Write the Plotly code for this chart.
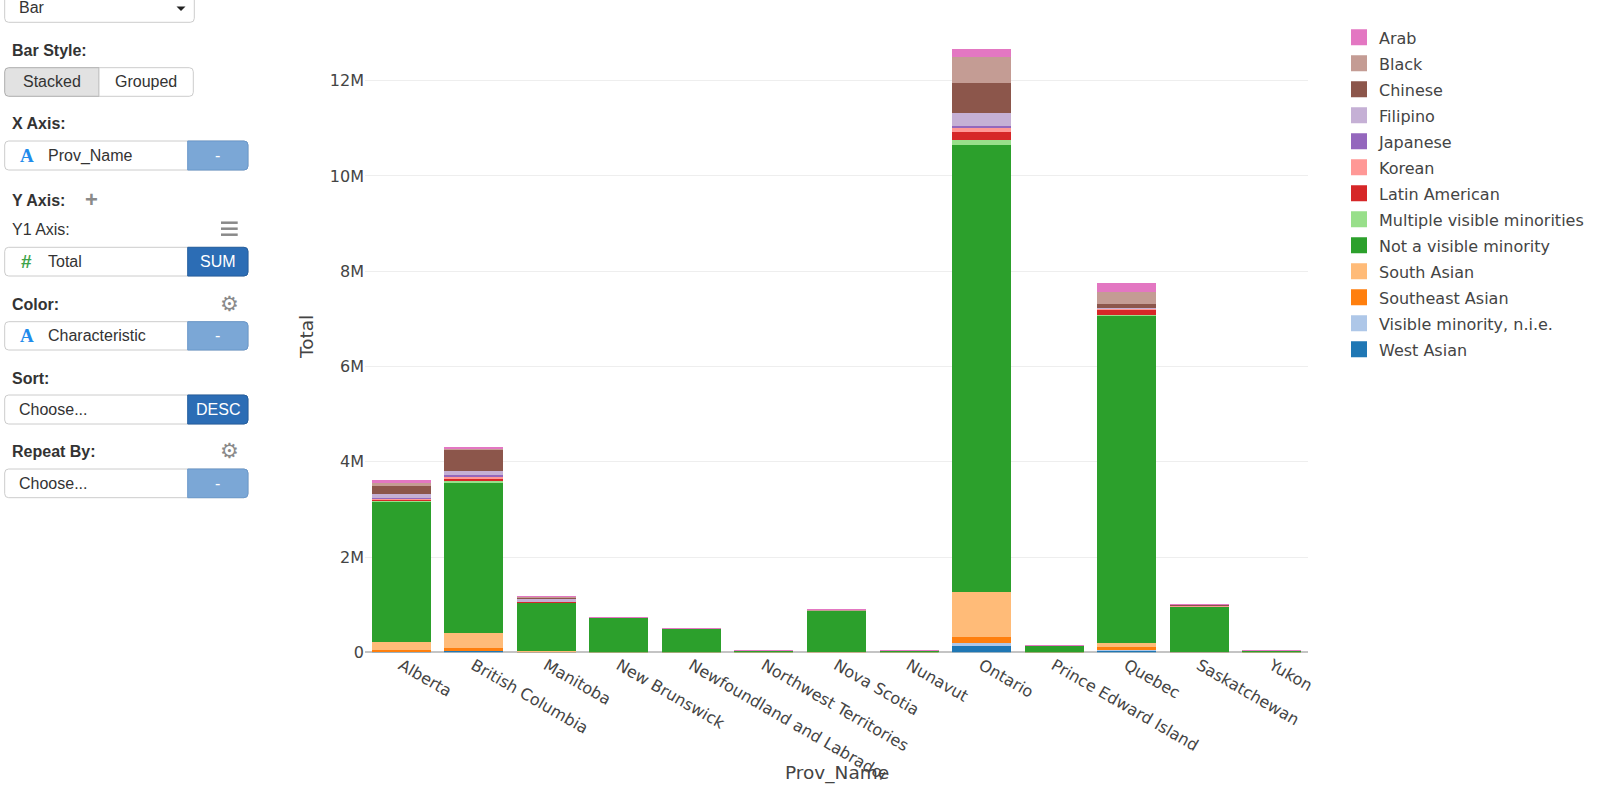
import plotly.graph_objects as go

# ---------------- data ----------------
provinces = ["Alberta", "British Columbia", "Manitoba", "New Brunswick",
             "Newfoundland and Labrador", "Northwest Territories", "Nova Scotia",
             "Nunavut", "Ontario", "Prince Edward Island", "Quebec",
             "Saskatchewan", "Yukon"]

west_asian = [15750, 33200, 2480, 670, 395, 50, 1215, 5, 139285, 35, 29995, 2155, 15]
vm_nie = [6575, 12735, 1870, 105, 90, 45, 1175, 10, 60830, 40, 18915, 415, 25]
southeast_asian = [41700, 57780, 8160, 395, 220, 425, 1150, 20, 121970, 95, 63775, 4470, 170]
south_asian = [159055, 313440, 26220, 1940, 1640, 330, 5130, 40, 964240, 590, 91400, 12015, 225]
not_vm = [2933990, 3143585, 1010255, 721480, 500205, 37780, 858905, 31310, 9372230, 133985, 6869190, 946935, 31240]
multiple_vm = [19955, 43845, 4720, 355, 90, 125, 1000, 0, 103130, 85, 11250, 1410, 275]
latin_american = [37180, 35465, 10330, 1195, 475, 155, 1670, 15, 172560, 160, 116380, 3270, 130]
korean = [18455, 52980, 5465, 475, 175, 55, 1340, 10, 88010, 90, 7025, 3415, 50]
japanese = [11705, 38480, 2085, 195, 120, 100, 490, 0, 28975, 30, 3990, 945, 125]
filipino = [96020, 88105, 61270, 660, 390, 960, 1115, 55, 275380, 160, 31495, 15960, 555]
chinese = [155965, 430165, 17920, 2470, 1505, 515, 5210, 45, 630345, 1340, 82845, 10230, 235]
black = [74435, 33260, 20160, 4870, 1275, 700, 20790, 165, 539205, 385, 243625, 8830, 240]
arab = [37350, 11405, 3490, 1445, 690, 205, 6995, 20, 155590, 335, 166260, 3285, 30]

# stacking order (bottom -> top)
series_names = ["West Asian", "Visible minority, n.i.e.", "Southeast Asian", "South Asian",
                "Not a visible minority", "Multiple visible minorities", "Latin American",
                "Korean", "Japanese", "Filipino", "Chinese", "Black", "Arab"]
series_values = [west_asian, vm_nie, southeast_asian, south_asian, not_vm, multiple_vm,
                 latin_american, korean, japanese, filipino, chinese, black, arab]
series_colors = ["#1f77b4", "#aec7e8", "#ff7f0e", "#ffbb78", "#2ca02c", "#98df8a",
                 "#d62728", "#ff9896", "#9467bd", "#c5b0d5", "#8c564b", "#c49c94", "#e377c2"]

W, H = 1600, 785


def X(px):
    return px / W


def Y(py):
    return 1 - py / H


fig = go.Figure()
n = len(series_names)
for i, (name, vals, col) in enumerate(zip(series_names, series_values, series_colors)):
    fig.add_trace(go.Bar(
        x=provinces, y=vals, name=name, legendgroup=name, showlegend=False,
        marker=dict(color=col, line=dict(color=col, width=1)),
    ))
# legend entries (larger swatches), drawn in legend order Arab -> West Asian
for i, (name, col) in enumerate(zip(series_names, series_colors)):
    fig.add_trace(go.Bar(
        x=[None], y=[None], name=name, legendgroup=name, showlegend=True,
        legendrank=100 + (n - i), hoverinfo="skip",
        marker=dict(color=col, line=dict(color=col, width=4)),
    ))

TEXT = "#333333"
UIFONT = "Liberation Sans, Arial, Helvetica, sans-serif"
CHFONT = "DejaVu Sans, Verdana, sans-serif"

shapes = []
annotations = []


def rrect(x0, y0, x1, y1, r=4, left=True, right=True, fill="white", line="#cccccc", lw=1):
    rx, ry = r / W, r / H
    a0, a1 = X(x0), X(x1)
    b0, b1 = Y(y0), Y(y1)
    p = []
    if left:
        p.append(f"M{a0},{b0 - ry}")
        p.append(f"Q{a0},{b0} {a0 + rx},{b0}")
    else:
        p.append(f"M{a0},{b0}")
    if right:
        p.append(f"L{a1 - rx},{b0}")
        p.append(f"Q{a1},{b0} {a1},{b0 - ry}")
        p.append(f"L{a1},{b1 + ry}")
        p.append(f"Q{a1},{b1} {a1 - rx},{b1}")
    else:
        p.append(f"L{a1},{b0}")
        p.append(f"L{a1},{b1}")
    if left:
        p.append(f"L{a0 + rx},{b1}")
        p.append(f"Q{a0},{b1} {a0},{b1 + ry}")
    else:
        p.append(f"L{a0},{b1}")
    p.append("Z")
    shapes.append(dict(type="path", xref="paper", yref="paper", path=" ".join(p),
                       fillcolor=fill, line=dict(color=line, width=lw), layer="above"))


def text(x, y, s, size=16, color=TEXT, bold=False, anchor="left", family=UIFONT):
    if bold:
        s = f"<b>{s}</b>"
    annotations.append(dict(x=X(x), y=Y(y), xref="paper", yref="paper", text=s,
                            showarrow=False, xanchor=anchor, yanchor="middle",
                            font=dict(size=size, color=color, family=family)))


LIGHTBLUE = "#7ba7d6"
LIGHTBLUE_LINE = "#6a98cb"
DARKBLUE = "#2c6db5"
DARKBLUE_LINE = "#255f9f"

# dropdown "Bar"
rrect(4.7, -10, 194.3, 22.3)
text(16.7, 7.5, "Bar")
shapes.append(dict(type="path", xref="paper", yref="paper",
                   path=f"M{X(176.5)},{Y(6.5)} L{X(185.5)},{Y(6.5)} L{X(181)},{Y(11)} Z",
                   fillcolor="#222222", line=dict(width=0), layer="above"))

# Bar Style
text(10, 50.7, "Bar Style:", bold=True)
rrect(4.7, 67.7, 99, 96.3, right=False, fill="#e2e2e2", line="#adadad")
rrect(99, 67.7, 193.3, 96.3, left=False, fill="white", line="#cccccc")
text(51.9, 82, "Stacked", anchor="center")
text(146.2, 82, "Grouped", anchor="center")


def field(y0, y1, icon, icon_color, label, btn, btn_fill, btn_line, icon_family="Liberation Serif, Times New Roman, serif"):
    rrect(4.7, y0, 248, y1)
    rrect(187.7, y0, 248, y1, left=False, fill=btn_fill, line=btn_line)
    yc = (y0 + y1) / 2
    if icon:
        text(26.7, yc, icon, size=19, color=icon_color, bold=True, anchor="center", family=icon_family)
        text(46, yc, label)
    else:
        text(16.7, yc, label)
    text(217.8, yc, btn, color="white", anchor="center")


# X Axis
text(10, 124, "X Axis:", bold=True)
field(141, 170, "A", "#1f8ceb", "Prov_Name", "-", LIGHTBLUE, LIGHTBLUE_LINE)

# Y Axis
text(10, 201, "Y Axis:", bold=True)
text(91, 199.5, "+", size=22, color="#8a8a8a", bold=True, anchor="center")
text(10, 229.3, "Y1 Axis:")
for yy in (222.7, 228.7, 234.7):
    shapes.append(dict(type="line", xref="paper", yref="paper", x0=X(221), x1=X(237.7),
                       y0=Y(yy), y1=Y(yy), line=dict(color="#8a8a8a", width=2.5), layer="above"))
field(247.3, 276, "#", "#3ea34a", "Total", "SUM", DARKBLUE, DARKBLUE_LINE,
      icon_family="Liberation Sans, Arial, sans-serif")

# Color
text(10, 304.3, "Color:", bold=True)
text(229.3, 304, "⚙", size=21, color="#8a8a8a", anchor="center", family="DejaVu Sans")
field(321.7, 350, "A", "#1f8ceb", "Characteristic", "-", LIGHTBLUE, LIGHTBLUE_LINE)

# Sort
text(10, 378.3, "Sort:", bold=True)
field(395, 424, None, None, "Choose...", "DESC", DARKBLUE, DARKBLUE_LINE)

# Repeat By
text(10, 451.7, "Repeat By:", bold=True)
text(229.3, 451, "⚙", size=21, color="#8a8a8a", anchor="center", family="DejaVu Sans")
field(469, 497.7, None, None, "Choose...", "-", LIGHTBLUE, LIGHTBLUE_LINE)

# axis titles
text(306, 337, "Total", size=18.5, color="#444444", anchor="center", family=CHFONT)
annotations[-1]["textangle"] = -90
text(837, 773, "Prov_Name", size=18.5, color="#444444", anchor="center", family=CHFONT)

fig.update_layout(
    template="none",
    width=W, height=H,
    margin=dict(l=0, r=0, t=0, b=0, autoexpand=False),
    paper_bgcolor="white", plot_bgcolor="white",
    barmode="stack", bargap=0.2,
    font=dict(family=CHFONT, size=16, color="#444444"),
    xaxis=dict(domain=[X(365), X(1308)], tickangle=30, showgrid=False, showline=False,
               ticks="", tickfont=dict(size=16, family=CHFONT, color="#444444"),
               automargin=False, type="category", categoryorder="array",
               categoryarray=provinces),
    yaxis=dict(domain=[Y(652.3), Y(18.7)], range=[0, 13.3e6], dtick=2e6, tickformat="~s",
               showgrid=True, gridcolor="#eeeeee", gridwidth=1, zeroline=True,
               zerolinecolor="#c4c4c4", zerolinewidth=1.5, ticks="", showline=False,
               tickfont=dict(size=16, family=CHFONT, color="#444444"), automargin=False),
    legend=dict(x=X(1339), y=Y(20.4), xanchor="left", yanchor="top",
                traceorder="grouped", tracegroupgap=2.2,
                font=dict(size=16, family=CHFONT, color="#444444"), bgcolor="rgba(0,0,0,0)"),
    shapes=shapes,
    annotations=annotations,
    showlegend=True,
)

fig.write_html("out.html", config={"displayModeBar": False},
               post_script="document.body.style.margin='0';document.body.style.overflow='hidden';")
